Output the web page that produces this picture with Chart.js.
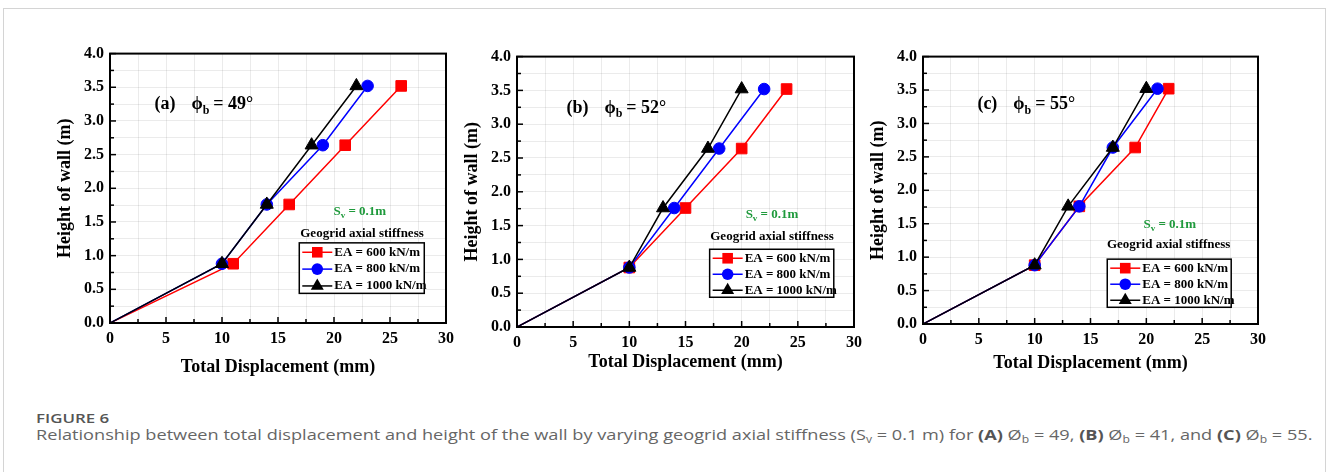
<!DOCTYPE html>
<html>
<head>
<meta charset="utf-8">
<script src="https://cdn.jsdelivr.net/npm/chart.js"></script>
<style>
body { margin:0; background:#fff; width:1327px; height:472px; overflow:hidden; position:relative; }
.frame { position:absolute; left:3px; top:8px; width:1323px; height:480px; border:1px solid #d4d4d4; box-sizing:border-box; }
canvas { position:absolute; }
#fig { position:absolute; left:36px; top:409px; font-family:'Open Sans', sans-serif; font-size:13px; font-weight:600; color:#555; transform:scaleX(1.3); transform-origin:left top; }
#cap { position:absolute; left:36px; top:424px; font-family:'Open Sans', sans-serif; font-size:15px; color:#666; white-space:nowrap; transform:scaleX(1.21); transform-origin:left top; }
#cap b { font-weight:700; color:#555; }
#cap sub { font-size:10px; vertical-align:-3px; line-height:0; }
</style>
</head>
<body>
<div class="frame"></div>
<canvas id="chartA" width="420" height="350" style="left:40px;top:38px"></canvas>
<canvas id="chartB" width="421" height="351" style="left:447px;top:41px"></canvas>
<canvas id="chartC" width="419" height="348" style="left:853px;top:41px"></canvas>
<div id="fig">FIGURE 6</div>
<div id="cap">Relationship between total displacement and height of the wall by varying geogrid axial stiffness (S<sub>v</sub> = 0.1 m) for <b>(A)</b> Ø<sub>b</sub> = 49, <b>(B)</b> Ø<sub>b</sub> = 41, and <b>(C)</b> Ø<sub>b</sub> = 55.</div>
<script>
// heights of the reinforcement levels (m)
const heights = [0, 0.88, 1.76, 2.64, 3.52]

// total displacement (mm) per panel and stiffness
const dispA600 = [0, 11, 16, 21, 26]
const dispA800 = [0, 10, 14, 19, 23]
const dispA1000 = [0, 10, 14, 18, 22]

const dispB600 = [0, 10, 15, 20, 24]
const dispB800 = [0, 10, 14, 18, 22]
const dispB1000 = [0, 10, 13, 17, 20]

const dispC600 = [0, 10, 14, 19, 22]
const dispC800 = [0, 10, 14, 17, 21]
const dispC1000 = [0, 10, 13, 17, 20]

const seriesLabels = ['EA = 600 kN/m', 'EA = 800 kN/m', 'EA = 1000 kN/m']
const panelTags = ['(a)', '(b)', '(c)']
const phiValues = [49, 52, 55]

const serif = '"Liberation Serif", "Times New Roman", serif'
const styles = [
    { color: '#ff0000', shape: 'rect', r: 7.5 },
    { color: '#0000ff', shape: 'circle', r: 5.8 },
    { color: '#000000', shape: 'triangle', r: 7.5 }
]

function marker(ctx, shape, x, y, r) {
    ctx.beginPath()
    if (shape === 'rect') {
        const s = r * Math.SQRT1_2
        ctx.rect(x - s, y - s, 2 * s, 2 * s)
    } else if (shape === 'circle') {
        ctx.arc(x, y, r, 0, Math.PI * 2)
    } else {
        ctx.moveTo(x, y - r)
        ctx.lineTo(x + r * 0.866, y + r * 0.5)
        ctx.lineTo(x - r * 0.866, y + r * 0.5)
        ctx.closePath()
    }
    ctx.fill()
}

const panelDeco = {
    id: 'panelDeco',
    afterDraw(chart, args, o) {
        const { ctx, chartArea: a, scales: { x, y } } = chart
        ctx.save()
        ctx.strokeStyle = '#000'
        ctx.lineWidth = 1.5
        // inward ticks
        x.ticks.forEach(t => {
            const px = x.getPixelForValue(t.value)
            const len = t.value % 5 === 0 ? 6 : 4
            ctx.beginPath(); ctx.moveTo(px, a.bottom); ctx.lineTo(px, a.bottom - len); ctx.stroke()
        })
        y.ticks.forEach(t => {
            const py = y.getPixelForValue(t.value)
            const len = Math.round(t.value * 100) % 50 === 0 ? 6 : 4
            ctx.beginPath(); ctx.moveTo(a.left, py); ctx.lineTo(a.left + len, py); ctx.stroke()
        })
        ctx.lineWidth = 2
        ctx.strokeRect(a.left, a.top, a.width, a.height)

        ctx.fillStyle = '#000'
        ctx.textBaseline = 'middle'
        ctx.textAlign = 'left'

        // panel tag and friction angle
        let tx = x.getPixelForValue(o.tagX)
        const ty = y.getPixelForValue(o.tagY)
        ctx.font = 'bold 18px ' + serif
        ctx.fillText(o.tag, tx, ty)
        tx += ctx.measureText(o.tag).width + 16
        ctx.fillText('\u03d5', tx, ty)
        tx += ctx.measureText('\u03d5').width
        ctx.font = 'bold 12px ' + serif
        ctx.fillText('b', tx, ty + 6)
        tx += ctx.measureText('b').width + 4
        ctx.font = 'bold 18px ' + serif
        ctx.fillText('= ' + o.phi + '\u00b0', tx, ty)

        // Sv note
        ctx.fillStyle = '#1f9a3c'
        const sx = x.getPixelForValue(o.svX), sy = y.getPixelForValue(o.svY)
        ctx.font = 'bold 13px ' + serif
        const w1 = ctx.measureText('S').width
        const w3 = ctx.measureText(' = 0.1m').width
        ctx.font = 'bold 9px ' + serif
        const w2 = ctx.measureText('v').width
        let cx = sx - (w1 + w2 + w3) / 2
        ctx.font = 'bold 13px ' + serif
        ctx.fillText('S', cx, sy)
        ctx.font = 'bold 9px ' + serif
        ctx.fillText('v', cx + w1, sy + 4)
        ctx.font = 'bold 13px ' + serif
        ctx.fillText(' = 0.1m', cx + w1 + w2, sy)

        // legend heading
        ctx.fillStyle = '#000'
        ctx.textAlign = 'center'
        ctx.fillText('Geogrid axial stiffness', x.getPixelForValue(o.headX), y.getPixelForValue(o.headY))

        // legend box
        const bl = x.getPixelForValue(o.box[0]), br = x.getPixelForValue(o.box[1])
        const bt = y.getPixelForValue(o.box[2]), bb = y.getPixelForValue(o.box[3])
        ctx.fillStyle = '#fff'
        ctx.fillRect(bl, bt, br - bl, bb - bt)
        ctx.lineWidth = 1.5
        ctx.strokeRect(bl, bt, br - bl, bb - bt)
        ctx.textAlign = 'left'
        const step = (bb - bt) / 3
        seriesLabels.forEach((lab, i) => {
            const st = styles[i]
            const ry = bt + step * (i + 0.5) + 1
            ctx.strokeStyle = st.color
            ctx.fillStyle = st.color
            ctx.lineWidth = 1.5
            ctx.beginPath(); ctx.moveTo(bl + 3, ry); ctx.lineTo(bl + 33, ry); ctx.stroke()
            marker(ctx, st.shape, bl + 18, ry, st.r)
            ctx.fillStyle = '#000'
            ctx.font = 'bold 13px ' + serif
            ctx.fillText(lab, bl + 35, ry)
        })
        ctx.restore()
    }
}

function criarPainel(id, series, deco, titlePad) {
    const el = document.getElementById(id)
    const tickFont = { family: serif, size: 16, weight: 'bold' }
    const titleFont = { family: serif, size: 18, weight: 'bold' }
    new Chart(el, {
        type: 'line',
        data: {
            datasets: series.map((vals, i) => ({
                label: seriesLabels[i],
                data: vals.map((v, k) => ({ x: v, y: heights[k] })),
                borderColor: styles[i].color,
                backgroundColor: styles[i].color,
                borderWidth: 1.5,
                pointStyle: styles[i].shape,
                pointRadius: vals.map((v, k) => k === 0 ? 0 : styles[i].r),
                pointBorderWidth: 1,
                order: 3 - i,
                tension: 0
            }))
        },
        options: {
            responsive: false,
            animation: false,
            layout: { padding: { top: 12, right: 10, left: 0, bottom: 0 } },
            plugins: {
                legend: { display: false },
                tooltip: { enabled: false },
                panelDeco: deco
            },
            scales: {
                x: {
                    type: 'linear',
                    min: 0, max: 30,
                    ticks: {
                        stepSize: 2.5,
                        autoSkip: false,
                        maxRotation: 0,
                        padding: 6,
                        color: '#000',
                        font: tickFont,
                        callback: v => v % 5 === 0 ? v : ''
                    },
                    grid: { color: 'rgba(0,0,0,0.08)', drawTicks: false },
                    border: { display: false },
                    title: {
                        display: true,
                        text: 'Total Displacement (mm)',
                        color: '#000',
                        font: titleFont,
                        padding: { top: 0, bottom: titlePad }
                    },
                    afterFit: s => { s.height = 65 }
                },
                y: {
                    type: 'linear',
                    min: 0, max: 4,
                    ticks: {
                        stepSize: 0.25,
                        autoSkip: false,
                        padding: 6,
                        color: '#000',
                        font: tickFont,
                        callback: v => Math.round(v * 100) % 50 === 0 ? v.toFixed(1) : ''
                    },
                    grid: { color: 'rgba(0,0,0,0.08)', drawTicks: false },
                    border: { display: false },
                    title: {
                        display: true,
                        text: 'Height of wall (m)',
                        color: '#000',
                        font: titleFont,
                        padding: { top: 15, bottom: 0 }
                    },
                    afterFit: s => { s.width = 70 }
                }
            }
        },
        plugins: [panelDeco]
    })
}

document.addEventListener('DOMContentLoaded', () => {
    criarPainel('chartA', [dispA600, dispA800, dispA1000], {
        tag: panelTags[0], phi: phiValues[0], tagX: 3.97, tagY: 3.24,
        svX: 22.3, svY: 1.66, headX: 22.5, headY: 1.33, box: [16.9, 28.06, 1.19, 0.44]
    }, 10)
    criarPainel('chartB', [dispB600, dispB800, dispB1000], {
        tag: panelTags[1], phi: phiValues[1], tagX: 4.4, tagY: 3.24,
        svX: 22.7, svY: 1.66, headX: 22.7, headY: 1.34, box: [17.15, 28.2, 1.15, 0.44]
    }, 19)
    criarPainel('chartC', [dispC600, dispC800, dispC1000], {
        tag: panelTags[2], phi: phiValues[2], tagX: 4.87, tagY: 3.28,
        svX: 22.1, svY: 1.49, headX: 22.0, headY: 1.18, box: [16.5, 27.6, 0.97, 0.25]
    }, 15)
})
</script>
</body>
</html>
